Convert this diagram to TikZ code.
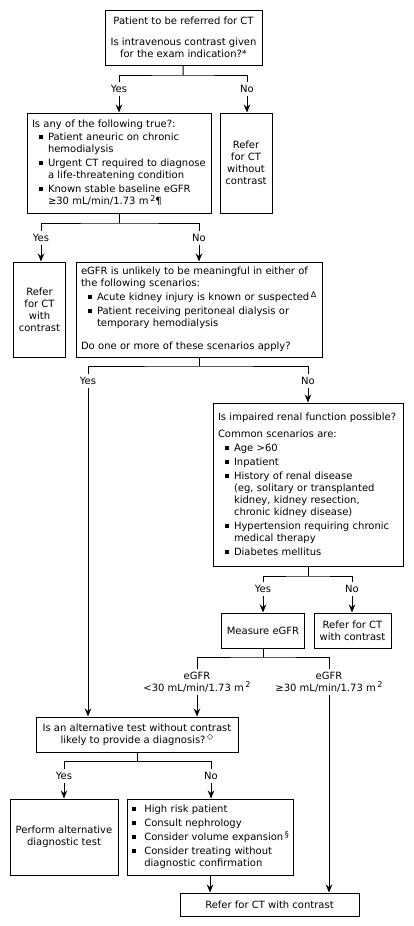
\documentclass[tikz,border=0pt]{standalone}
\usepackage{fontspec}
\setmainfont{DejaVu Sans}
\usepackage{tikz}
\usetikzlibrary{arrows.meta,positioning}
\newcommand{\sqbul}[1][7pt]{\hspace*{#1}\makebox[9pt][l]{\rule[1.5pt]{4pt}{4pt}}}
\newcommand{\sqind}[1][7pt]{\hspace*{\dimexpr#1+9pt\relax}}
\newcommand{\sups}[1]{\,\raisebox{3.5pt}{\fontsize{8}{8}\selectfont #1}}

\begin{document}
\begin{tikzpicture}[
        x=1pt, y=-1pt,
        font=\fontsize{10}{12}\selectfont,
        box/.style={rectangle, draw=black, line width=1pt, inner xsep=5pt, inner ysep=0pt, align=center},
        listbox/.style={box, align=left},
        answer/.style={inner sep=3pt},
        line/.style={line width=1pt},
        arrow/.style={-{Stealth[length=8pt,width=6.5pt]}, line width=1pt}
    ]
        \useasboundingbox (0,0) rectangle (413,926);

        % Start
        \node[box, minimum width=157pt, minimum height=55pt] (start) at (183.5,37.5)
            {Patient to be referred for CT\\[9pt]Is intravenous contrast given\\for the exam indication?*};

        % Second row
        \node[listbox, text width=174pt, minimum height=100pt] (anytrue) at (119,163)
            {Is any of the following true?:\\[1pt]
             \sqbul Patient aneuric on chronic\\
             \sqind hemodialysis\\[2pt]
             \mbox{\sqbul Urgent CT required to diagnose}\\
             \sqind a life-threatening condition\\[2pt]
             \sqbul Known stable baseline eGFR\\
             \sqind \mbox{≥30 mL/min/1.73 m\sups{2}¶}};
        \node[box, minimum width=52pt, minimum height=100pt] (nocontrast) at (246,163)
            {Refer\\for CT\\without\\contrast};

        % Third row
        \node[box, minimum width=51pt, minimum height=95pt] (withcontrast) at (39.5,309.5)
            {Refer\\for CT\\with\\contrast};
        \node[listbox, text width=236pt, minimum height=95pt] (unlikely) at (199,309.5)
            {eGFR is unlikely to be meaningful in either of\\
             the following scenarios:\\[2pt]
             \mbox{\sqbul Acute kidney injury is known or suspected\sups{Δ}}\\[2pt]
             \sqbul Patient receiving peritoneal dialysis or\\
             \sqind temporary hemodialysis\\[11pt]
             Do one or more of these scenarios apply?};

        % Renal function
        \node[listbox, text width=180pt, minimum height=163pt] (impaired) at (308,484.5)
            {Is impaired renal function possible?\\[5pt]
             Common scenarios are:\\[2pt]
             \sqbul Age >60\\[2pt]
             \sqbul Inpatient\\[2pt]
             \sqbul History of renal disease\\
             \sqind (eg, solitary or transplanted\\
             \sqind kidney, kidney resection,\\
             \sqind chronic kidney disease)\\[2pt]
             \mbox{\sqbul Hypertension requiring chronic}\\
             \sqind medical therapy\\[2pt]
             \sqbul Diabetes mellitus};
        \node[box, minimum width=82pt, minimum height=35pt] (measure) at (263,630.5) {Measure eGFR};
        \node[box, minimum width=77pt, minimum height=35pt] (withcontrastb) at (352.5,630.5)
            {Refer for CT\\with contrast};

        % Alternative test
        \node[box, minimum width=202pt, minimum height=35pt] (alttest) at (137,734.5)
            {Is an alternative test without contrast\\likely to provide a diagnosis?\sups{◇}};
        \node[box, minimum width=108pt, minimum height=76pt] (perform) at (64,837)
            {Perform alternative\\diagnostic test};
        \node[listbox, text width=156pt, minimum height=76pt] (highrisk) at (210,837)
            {\sqbul[0pt] High risk patient\\[2pt]
             \sqbul[0pt] Consult nephrology\\[2pt]
             \mbox{\sqbul[0pt] Consider volume expansion\sups{§}}\\[2pt]
             \sqbul[0pt] Consider treating without\\
             \sqind[0pt] diagnostic confirmation};
        \node[box, minimum width=179pt, minimum height=23pt] (final) at (269.5,904.5)
            {Refer for CT with contrast};

        % Answers
        \node[answer] (yesA) at (119,89) {Yes};
        \node[answer] (noA) at (247,89) {No};
        \node[answer] (yesB) at (41,238) {Yes};
        \node[answer] (noB) at (199,238) {No};
        \node[answer] (yesC) at (88,381) {Yes};
        \node[answer] (noC) at (308,381) {No};
        \node[answer] (yesD) at (263,589) {Yes};
        \node[answer] (noD) at (352,589) {No};
        \node[answer, align=center] (low) at (197,682) {eGFR\\<30 mL/min/1.73 m\sups{2}};
        \node[answer, align=center] (high) at (329,682) {eGFR\\≥30 mL/min/1.73 m\sups{2}};
        \node[answer] (yesE) at (64,776) {Yes};
        \node[answer] (noE) at (211,776) {No};

        % Junctions
        \coordinate (jA) at (183,75);
        \coordinate (jB) at (119,223);
        \coordinate (jC) at (199,366);
        \coordinate (jD) at (308,576);
        \coordinate (jE) at (263,657);
        \coordinate (jF) at (137,761);

        % Splits
        \draw[line] (start) -- (jA);
        \draw[line] (yesA.north) |- (jA) -| (noA.north);
        \draw[line] (anytrue) -- (jB);
        \draw[line] (yesB.north) |- (jB) -| (noB.north);
        \draw[line] (unlikely) -- (jC);
        \draw[line] (yesC.north) |- (jC) -| (noC.north);
        \draw[line] (impaired) -- (jD);
        \draw[line] (yesD.north) |- (jD) -| (noD.north);
        \draw[line] (measure) -- (jE);
        \draw[line] (low.north) |- (jE) -| (high.north);
        \draw[line] (alttest) -- (jF);
        \draw[line] (yesE.north) |- (jF) -| (noE.north);

        % Arrows
        \draw[arrow] (yesA) -- (yesA |- anytrue.north);
        \draw[arrow] (noA) -- (noA |- nocontrast.north);
        \draw[arrow] (yesB) -- (yesB |- withcontrast.north);
        \draw[arrow] (noB) -- (noB |- unlikely.north);
        \draw[arrow] (yesC) -- (yesC |- alttest.north);
        \draw[arrow] (noC) -- (noC |- impaired.north);
        \draw[arrow] (yesD) -- (yesD |- measure.north);
        \draw[arrow] (noD) -- (noD |- withcontrastb.north);
        \draw[arrow] (low) -- (low |- alttest.north);
        \draw[arrow] (high) -- (high |- final.north);
        \draw[arrow] (yesE) -- (yesE |- perform.north);
        \draw[arrow] (noE) -- (noE |- highrisk.north);
        \draw[arrow] (highrisk) -- (highrisk |- final.north);

    \end{tikzpicture}
\end{document}
